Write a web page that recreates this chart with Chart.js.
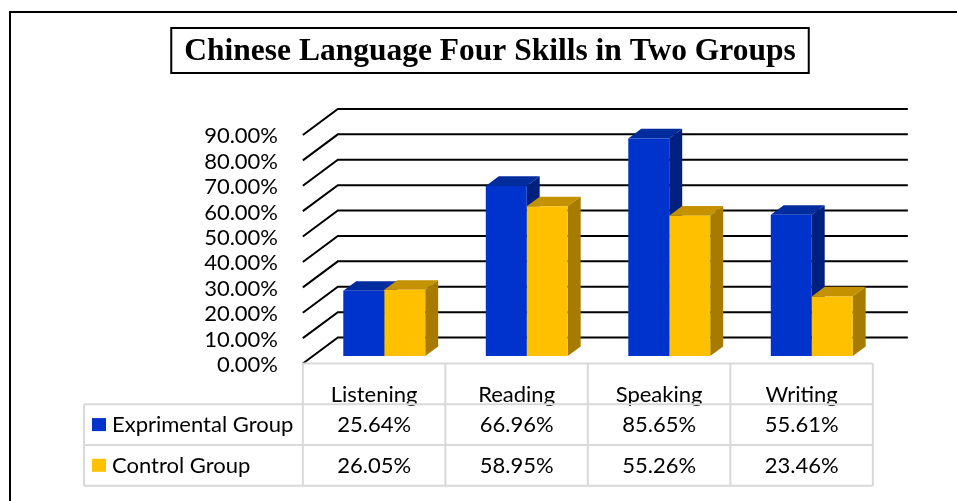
<!DOCTYPE html>
<html>
<head>
<meta charset="utf-8">
<script src="https://cdn.jsdelivr.net/npm/chart.js@4.4.1/dist/chart.umd.min.js"></script>
<style>
html,body{margin:0;padding:0;background:#fff;overflow:hidden}
#wrap{width:957px;height:501px;position:relative}
canvas{display:block}
</style>
</head>
<body>
<div id="wrap"><canvas id="c" width="957" height="501"></canvas></div>
<script>
// ---- data ----
const titleText = 'Chinese Language Four Skills in Two Groups';
const categories = ['Listening', 'Reading', 'Speaking', 'Writing'];
const seriesNames = ['Exprimental Group', 'Control Group'];
const experimentalValues = [25.64, 66.96, 85.65, 55.61];
const controlValues = [26.05, 58.95, 55.26, 23.46];
const yTickValues = [0, 10, 20, 30, 40, 50, 60, 70, 80, 90];

// ---- styles ----
const frontColors = ['#0033CC', '#FFC000'];
const topColors = ['#002C9E', '#C49100'];
const sideColors = ['#002080', '#A67B00'];
const DEPTH = {dx: 35, dy: -26};   // full depth of the 3D box
const FRONT_F = 0.29;               // bar plane position within depth
const BAR_D = 0.37;                 // bar depth
const LABEL_FONT = 'Lato';
const LABEL_SIZE = 22;
const fmt = v => v.toFixed(2) + '%';

const threeD = {
  id: 'threeD',
  beforeDatasetsDraw(chart) {
    const {ctx, chartArea: {left, right}, scales: {y}} = chart;
    const fx = -FRONT_F * DEPTH.dx, fy = -FRONT_F * DEPTH.dy;
    const bx = (1 - FRONT_F) * DEPTH.dx, by = (1 - FRONT_F) * DEPTH.dy;
    ctx.save();
    ctx.strokeStyle = '#000';
    ctx.lineWidth = 2;
    yTickValues.forEach(v => {
      const py = y.getPixelForValue(v);
      ctx.beginPath();
      ctx.moveTo(left + fx, py + fy);
      ctx.lineTo(left + bx, py + by);
      ctx.lineTo(right + bx, py + by);
      ctx.stroke();
    });
    const ddx = BAR_D * DEPTH.dx, ddy = BAR_D * DEPTH.dy;
    chart.data.datasets.forEach((ds, i) => {
      const meta = chart.getDatasetMeta(i);
      meta.data.forEach(bar => {
        const p = bar.getProps(['x', 'y', 'base', 'width'], true);
        const xl = p.x - p.width / 2, xr = p.x + p.width / 2;
        const yt = p.y, yb = p.base;
        ctx.fillStyle = topColors[i];
        ctx.beginPath();
        ctx.moveTo(xl, yt); ctx.lineTo(xr, yt);
        ctx.lineTo(xr + ddx, yt + ddy); ctx.lineTo(xl + ddx, yt + ddy);
        ctx.closePath(); ctx.fill();
        ctx.fillStyle = sideColors[i];
        ctx.beginPath();
        ctx.moveTo(xr, yt); ctx.lineTo(xr + ddx, yt + ddy);
        ctx.lineTo(xr + ddx, yb + ddy); ctx.lineTo(xr, yb);
        ctx.closePath(); ctx.fill();
      });
    });
    ctx.restore();
  },
  afterDraw(chart) {
    const {ctx, chartArea: {left, right}, scales: {y}} = chart;
    ctx.save();
    // outer frame
    ctx.strokeStyle = '#000';
    ctx.lineWidth = 2;
    ctx.beginPath();
    ctx.moveTo(10, 501); ctx.lineTo(10, 12); ctx.lineTo(957, 12);
    ctx.stroke();
    // title box
    const tb = chart.titleBlock;
    ctx.font = 'bold 31.5px "Liberation Serif"';
    const tw = ctx.measureText(titleText).width;
    const cx = (tb.left + tb.right) / 2;
    ctx.strokeRect(cx - tw / 2 - 13, 28, tw + 26, 45);

    // data table
    const fx = -FRONT_F * DEPTH.dx, fy = -FRONT_F * DEPTH.dy;
    const x0 = left + fx;
    const colW = (right - left) / categories.length;
    const top = y.getPixelForValue(0) + fy;
    const rowH = 40.7;
    const legL = 84;
    ctx.font = LABEL_SIZE + 'px ' + LABEL_FONT;
    ctx.fillStyle = '#000';
    ctx.textBaseline = 'middle';
    ctx.textAlign = 'center';
    categories.forEach((c, k) => {
      ctx.fillText(c, x0 + colW * (k + 0.5), top + 31.5);
    });
    const rows = [experimentalValues, controlValues];
    rows.forEach((vals, r) => {
      const cyR = top + rowH * (r + 1) + rowH / 2 + 0.5;
      vals.forEach((v, k) => {
        ctx.textAlign = 'center';
        ctx.fillStyle = '#000';
        ctx.fillText(fmt(v), x0 + colW * (k + 0.5), cyR);
      });
      ctx.fillStyle = frontColors[r];
      ctx.fillRect(92, cyR - 7, 14, 13);
      ctx.fillStyle = '#000';
      ctx.textAlign = 'left';
      ctx.fillText(seriesNames[r], 112, cyR);
    });
    // table grid
    ctx.strokeStyle = '#D9D9D9';
    ctx.lineWidth = 2;
    ctx.beginPath();
    ctx.moveTo(x0, top); ctx.lineTo(x0 + colW * categories.length, top);
    for (let r = 1; r <= 3; r++) {
      ctx.moveTo(legL, top + rowH * r); ctx.lineTo(x0 + colW * categories.length, top + rowH * r);
    }
    for (let k = 0; k <= categories.length; k++) {
      ctx.moveTo(x0 + colW * k, top); ctx.lineTo(x0 + colW * k, top + rowH * 3);
    }
    ctx.moveTo(legL, top + rowH); ctx.lineTo(legL, top + rowH * 3);
    ctx.stroke();
    ctx.restore();
  }
};

function make() {
  new Chart(document.getElementById('c'), {
    type: 'bar',
    data: {
      labels: categories,
      datasets: [
        {label: seriesNames[0], data: experimentalValues, backgroundColor: frontColors[0], borderWidth: 0},
        {label: seriesNames[1], data: controlValues, backgroundColor: frontColors[1], borderWidth: 0}
      ]
    },
    options: {
      responsive: false,
      animation: false,
      events: [],
      categoryPercentage: 0.575,
      barPercentage: 1.0,
      layout: {padding: {left: 97, right: 74, top: 0, bottom: 145}},
      plugins: {
        legend: {display: false},
        tooltip: {enabled: false},
        title: {
          display: true,
          text: titleText,
          color: '#000',
          font: {family: 'Liberation Serif', size: 31.5, weight: 'bold', lineHeight: 1.2},
          padding: {top: 33.1, bottom: 56.5}
        }
      },
      scales: {
        x: {display: false},
        y: {
          min: 0, max: 90,
          afterFit(scale) { scale.width = 216; },
          grid: {display: false, drawTicks: false, tickLength: 0},
          border: {display: false},
          afterBuildTicks(scale) { scale.ticks = yTickValues.map(v => ({value: v})); },
          ticks: {
            autoSkip: false,
            padding: 35,
            labelOffset: 9,
            color: '#000',
            font: {family: LABEL_FONT, size: LABEL_SIZE},
            callback: v => fmt(v)
          }
        }
      }
    },
    plugins: [threeD]
  });
}
if (document.fonts && document.fonts.load) {
  Promise.all([
    document.fonts.load(LABEL_SIZE + 'px Lato'),
    document.fonts.load('bold 31.5px "Liberation Serif"')
  ]).then(make, make);
} else { make(); }
</script>
</body>
</html>
